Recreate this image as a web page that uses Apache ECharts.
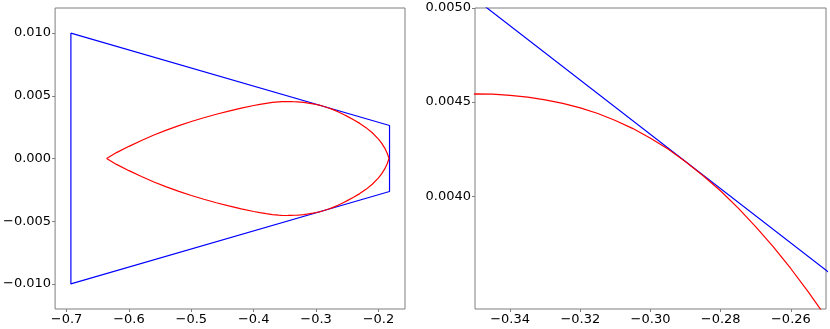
<!DOCTYPE html>
<html lang="en">
<head>
<meta charset="UTF-8">
<title>teardrop</title>
<script src="https://cdn.jsdelivr.net/npm/echarts@6/dist/echarts.min.js"></script>
<style>
  html, body { margin: 0; padding: 0; background: #fff; }
  #chart { width: 830px; height: 329px; }
</style>
</head>
<body>
<div id="chart"></div>
<script type="text/javascript">
// red curve, upper half (left panel + zoomed right panel)
var redX = [-0.6358, -0.62, -0.60, -0.58, -0.56, -0.54, -0.52, -0.50, -0.48, -0.46,
    -0.44, -0.42, -0.40, -0.39, -0.38, -0.37, -0.36, -0.355, -0.35, -0.345,
    -0.34, -0.335, -0.33, -0.325, -0.32, -0.315, -0.31, -0.305, -0.30, -0.295,
    -0.29, -0.285, -0.28, -0.275, -0.27, -0.265, -0.26, -0.255, -0.25, -0.24,
    -0.23, -0.22, -0.21, -0.20, -0.195, -0.19, -0.186, -0.1831];
var redUpper = [0, 0.00047, 0.00097, 0.00144, 0.00187, 0.00226, 0.00262, 0.00295, 0.00325, 0.003525,
    0.00378, 0.004015, 0.004225, 0.004318, 0.0044, 0.00447, 0.004522, 0.004537, 0.004543, 0.004542,
    0.004536, 0.004526, 0.004512, 0.004493, 0.004469, 0.004439, 0.004402, 0.004359, 0.004308, 0.00425,
    0.004183, 0.004108, 0.004027, 0.003936, 0.003837, 0.00373, 0.003614, 0.00349, 0.003357, 0.00309,
    0.0028, 0.00246, 0.00205, 0.00155, 0.00123, 0.00083, 0.00042, 0];
var redLower = [0, -0.00047, -0.00097, -0.00144, -0.00187, -0.00226, -0.00262, -0.00295, -0.00325, -0.003525,
    -0.00378, -0.004015, -0.004225, -0.004318, -0.0044, -0.00447, -0.004522, -0.004537, -0.004543, -0.004542,
    -0.004536, -0.004526, -0.004512, -0.004493, -0.004469, -0.004439, -0.004402, -0.004359, -0.004308, -0.00425,
    -0.004183, -0.004108, -0.004027, -0.003936, -0.003837, -0.00373, -0.003614, -0.00349, -0.003357, -0.00309,
    -0.0028, -0.00246, -0.00205, -0.00155, -0.00123, -0.00083, -0.00042, 0];

// blue polygon corners
var blueX = [-0.6931, -0.1823, -0.1823, -0.6931, -0.6931];
var blueY = [0.0100, 0.00263, -0.00263, -0.0100, 0.0100];

// tick labels
var leftXTicks = [-0.7, -0.6, -0.5, -0.4, -0.3, -0.2];
var leftYTicks = [-0.010, -0.005, 0, 0.005, 0.010];
var rightXTicks = [-0.34, -0.32, -0.30, -0.28, -0.26];
var rightYTicks = [0.0040, 0.0045, 0.0050];

function pairs(xs, ys) {
    var out = [];
    for (var i = 0; i < xs.length; i++) out.push([xs[i], ys[i]]);
    return out;
}

function fmt(d) {
    return function (v) { return v.toFixed(d).replace('-', '\u2212'); };
}

var font = 'DejaVu Sans';
var gray = '#7f7f7f';

function axis(pos, gridIndex, min, max, ticks, digits) {
    return {
        type: 'value',
        gridIndex: gridIndex,
        position: pos,
        min: min,
        max: max,
        scale: true,
        splitLine: {show: false},
        axisLine: {show: false, onZero: false},
        axisTick: {show: true, length: 3, inside: false, customValues: ticks,
            lineStyle: {color: gray, width: 1}},
        axisLabel: {customValues: ticks, formatter: fmt(digits), margin: 4,
            color: '#000', fontSize: 13, fontFamily: font}
    };
}

var myChart = echarts.init(document.getElementById('chart'));
myChart.setOption({
    animation: false,
    grid: [
        {left: 54, top: 8, width: 351, height: 301, show: true, borderColor: gray, borderWidth: 1},
        {left: 475, top: 8, width: 351, height: 301, show: true, borderColor: gray, borderWidth: 1}
    ],
    xAxis: [
        axis('bottom', 0, -0.7184, -0.1575, leftXTicks, 1),
        axis('bottom', 1, -0.35, -0.25, rightXTicks, 2)
    ],
    yAxis: [
        axis('left', 0, -0.012, 0.012, leftYTicks, 3),
        axis('left', 1, 0.0034, 0.0050, rightYTicks, 4)
    ],
    series: [
        {type: 'line', xAxisIndex: 0, yAxisIndex: 0, data: pairs(blueX, blueY),
            showSymbol: false, lineStyle: {color: '#0000ff', width: 1.2}},
        {type: 'line', xAxisIndex: 0, yAxisIndex: 0, data: pairs(redX, redUpper),
            showSymbol: false, lineStyle: {color: '#ff0000', width: 1.2}},
        {type: 'line', xAxisIndex: 0, yAxisIndex: 0, data: pairs(redX, redLower),
            showSymbol: false, lineStyle: {color: '#ff0000', width: 1.2}},
        {type: 'line', xAxisIndex: 1, yAxisIndex: 1, data: pairs(blueX, blueY),
            showSymbol: false, clip: true, lineStyle: {color: '#0000ff', width: 1.2}},
        {type: 'line', xAxisIndex: 1, yAxisIndex: 1, data: pairs(redX, redUpper),
            showSymbol: false, clip: true, lineStyle: {color: '#ff0000', width: 1.2}}
    ]
});
</script>
</body>
</html>
